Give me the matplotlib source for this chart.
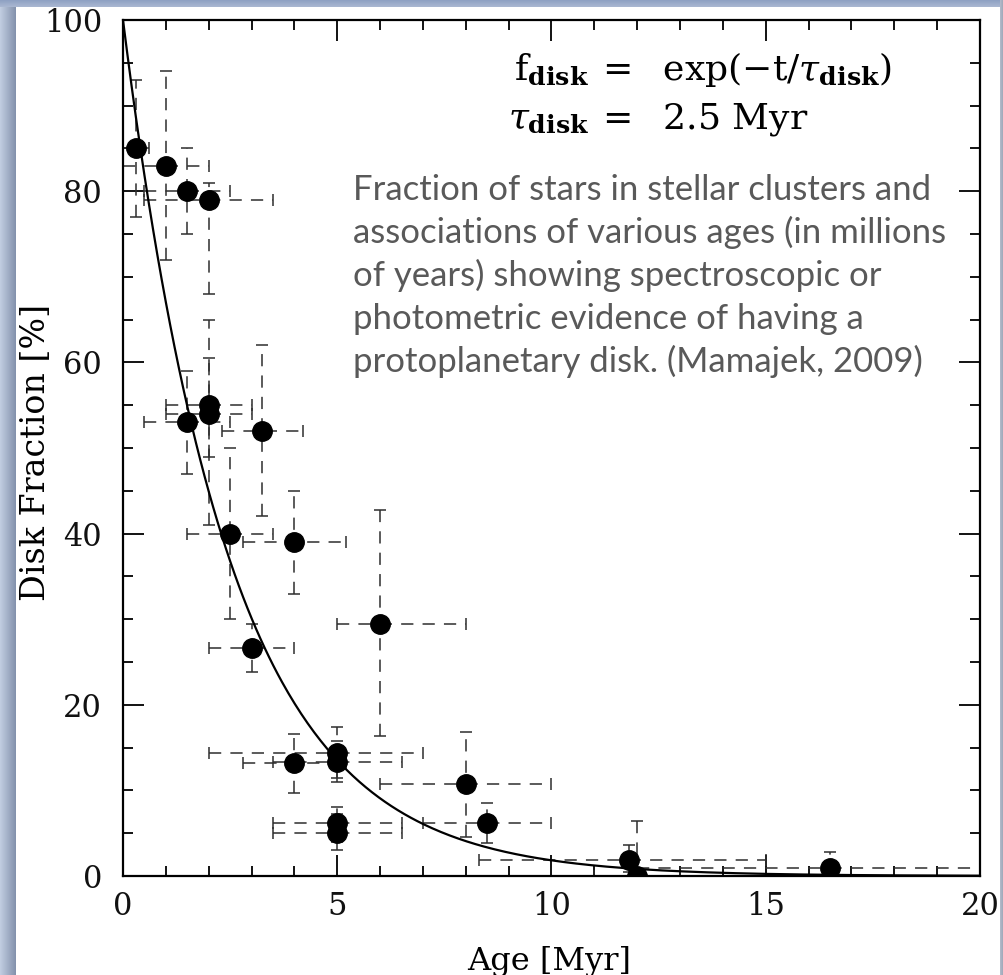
import numpy as np
import matplotlib
matplotlib.use("Agg")
import matplotlib.pyplot as plt
from matplotlib.ticker import MultipleLocator

# ---- data ----
age = [0.3, 1.0, 1.5, 2.0, 2.0, 2.0, 1.5, 3.25, 2.5, 4.0, 6.0, 3.0, 4.0, 5.0, 5.0, 5.0, 5.0, 8.0, 8.5, 11.8, 12.0, 16.5]
frac = [85, 83, 80, 79, 55, 54, 53, 52, 40, 39, 29.4, 26.6, 13.2, 14.4, 13.3, 6.2, 5.0, 10.7, 6.2, 1.9, 0.0, 0.9]
age_lo = [0.0, 0.0, 0.5, 0.5, 1.0, 1.0, 0.5, 2.3, 1.5, 2.8, 5.0, 2.0, 2.8, 2.0, 3.5, 3.5, 3.5, 6.0, 7.0, 8.3, 11.0, 12.0]
age_hi = [0.6, 2.0, 2.5, 3.5, 3.0, 3.0, 2.5, 4.2, 3.5, 5.2, 8.0, 4.0, 5.2, 7.0, 6.5, 6.5, 6.5, 10.0, 10.0, 15.0, 13.0, 20.0]
frac_lo = [77, 72, 75, 68, 49, 41, 47, 42, 30, 33, 16.3, 23.8, 9.7, 11.5, 11.0, 4.0, 3.0, 4.6, 3.9, 0.5, 0.0, 0.0]
frac_hi = [93, 94, 85, 81, 65, 60.5, 59, 62, 50, 45, 42.7, 29.4, 16.6, 17.4, 15.8, 8.1, 7.2, 16.8, 8.5, 3.6, 6.4, 2.8]
tau_disk = 2.5
x_ticks = [0, 5, 10, 15, 20]
y_ticks = [0, 20, 40, 60, 80, 100]
note_lines = ["Fraction of stars in stellar clusters and",
              "associations of various ages (in millions",
              "of years) showing spectroscopic or",
              "photometric evidence of having a",
              "protoplanetary disk. (Mamajek, 2009)"]

W, H = 1004, 975
fig = plt.figure(figsize=(W / 100, H / 100), dpi=100)
fig.patch.set_facecolor("white")
plt.rcParams["mathtext.fontset"] = "dejavuserif"

def px_axes(x0, y0, x1, y1):
    return fig.add_axes([x0 / W, 1 - y1 / H, (x1 - x0) / W, (y1 - y0) / H])

fx = lambda x: x / W
fy = lambda y: 1 - y / H

ax = px_axes(123, 20, 980, 876)

a = np.array(age); f = np.array(frac)
xerr = np.vstack([a - np.array(age_lo), np.array(age_hi) - a])
yerr = np.vstack([f - np.array(frac_lo), np.array(frac_hi) - f])

eb = ax.errorbar(age, frac, xerr=xerr, yerr=yerr, fmt="none", ecolor="#2e2e2e",
                 elinewidth=1.1, capsize=4.5, capthick=1.1, zorder=2)
for lc in eb[2]:
    lc.set_linestyle((0, (8, 6)))

ax.plot(age, frac, "o", color="black", ms=14, zorder=4)

t = np.linspace(0, 20, 400)
ax.plot(t, 100 * np.exp(-t / tau_disk), color="black", lw=1.6, zorder=3)

ax.set_xlim(0, 20)
ax.set_ylim(0, 100)
ax.set_xticks(x_ticks)
ax.set_yticks(y_ticks)
ax.xaxis.set_minor_locator(MultipleLocator(1))
ax.yaxis.set_minor_locator(MultipleLocator(5))
ax.tick_params(which="both", direction="in", top=True, right=True, width=1.3, color="black")
ax.tick_params(which="major", length=15)
ax.tick_params(which="minor", length=7.5)
ax.tick_params(axis="x", which="major", pad=11)
ax.tick_params(axis="y", which="major", pad=15)
for s in ax.spines.values():
    s.set_linewidth(1.6)

serif = "DejaVu Serif"
for lab in ax.get_xticklabels() + ax.get_yticklabels():
    lab.set_fontfamily(serif)
    lab.set_fontsize(22)
    lab.set_color("#111111")

fig.text(fx(549), fy(970), "Age [Myr]", fontfamily=serif, fontsize=23,
         ha="center", va="baseline")
fig.text(fx(36), fy(452), "Disk Fraction [%]", fontfamily=serif, fontsize=24,
         rotation=90, ha="center", va="center")

fs = 26
fig.text(fx(589), fy(80), r"$\mathrm{f}_{\mathbf{disk}}$", fontsize=fs, ha="right", va="baseline")
fig.text(fx(596), fy(80), r"$=\ \ \mathrm{exp}(-\mathrm{t}/\tau_{\mathbf{disk}})$", fontsize=fs, ha="left", va="baseline")
fig.text(fx(589), fy(128), r"$\tau_{\mathbf{disk}}$", fontsize=fs, ha="right", va="baseline")
fig.text(fx(596), fy(128), r"$=\ \ 2.5\ \mathrm{Myr}$", fontsize=fs, ha="left", va="baseline")

for i, line in enumerate(note_lines):
    fig.text(fx(353), fy(200 + 43 * i), line, fontfamily="Lato", fontsize=25,
             color="#595959", ha="left", va="baseline")

# frame strips
def strip(x0, y0, x1, y1, c0, c1, horizontal=True):
    sa = px_axes(x0, y0, x1, y1)
    n = 64
    g = np.linspace(0, 1, n)
    c0 = np.array(matplotlib.colors.to_rgb(c0)); c1 = np.array(matplotlib.colors.to_rgb(c1))
    img = c0[None, :] * (1 - g[:, None]) + c1[None, :] * g[:, None]
    img = img[None, :, :] if horizontal else img[:, None, :]
    sa.imshow(img, aspect="auto", interpolation="bilinear")
    sa.axis("off")

strip(0, 0, 16, H, "#c2cee2", "#8391ac", horizontal=True)
strip(0, 0, W, 7, "#8ea0c2", "#aab8d2", horizontal=False)
strip(1000, 0, W, H, "#b4bccb", "#98a1b3", horizontal=True)

fig.savefig("out.png", dpi=100, facecolor="white")
